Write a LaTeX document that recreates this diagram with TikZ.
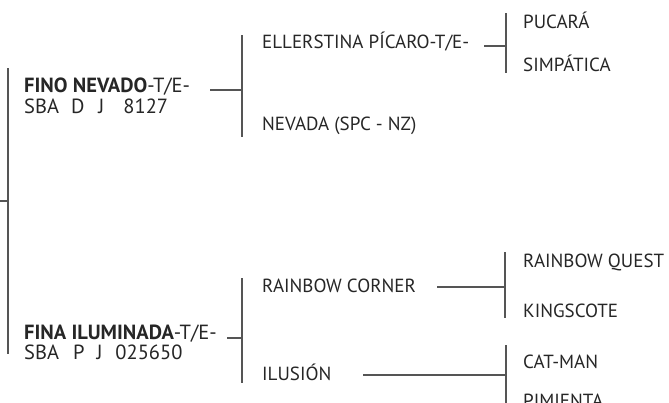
\documentclass[tikz,border=0pt]{standalone}
\usepackage{fontspec}
\setmainfont{PT Sans}
\definecolor{pedText}{HTML}{262626}
\definecolor{pedLine}{HTML}{555555}
\newcommand{\pedfork}[6]{%
  \coordinate (#1-in) at (#2,#4);
  \coordinate (#1) at (#3,#4);
  \coordinate (#1-top) at (#3,#5);
  \coordinate (#1-bot) at (#3,#6);
  \draw[pedline] (#1-in)--(#1);
  \draw[pedline] (#1-top)--(#1-bot);
}
\tikzset{
  horse/.style={anchor=base west,inner sep=0pt,text=pedText,
    font=\fontsize{19}{22}\selectfont},
  parent/.style={horse,font=\fontsize{20.5}{24}\selectfont},
  pedline/.style={pedLine,line width=1.2pt}
}

\begin{document}
\begin{tikzpicture}[x=1pt,y=-1pt]
\clip (0,0) rectangle (669,402);

% First generation: sire and dam.
\node[parent] (fino) at (24,92) {\textbf{FINO NEVADO}-T/E-};
\node[parent] (finoreg) at (24,113) {SBA\hspace{12pt}D\hspace{14pt}J\hspace{19pt}8127};
\node[parent] (fina) at (24,339) {\textbf{FINA ILUMINADA}-T/E-};
\node[parent] (finareg) at (24,359) {SBA\hspace{14pt}P\hspace{12pt}J\hspace{13pt}025650};

% Second generation.
\node[horse] (ellers) at (262,48) {ELLERSTINA PÍCARO-T/E-};
\node[horse] (nevada) at (262,130) {NEVADA (SPC - NZ)};
\node[horse] (rainbow) at (262,292) {RAINBOW CORNER};
\node[horse] (ilusion) at (262,380) {ILUSIÓN};

% Third generation.
\node[horse] (pucara) at (523,28) {PUCARÁ};
\node[horse] (simpatica) at (523,71) {SIMPÁTICA};
\node[horse] (rquest) at (523,267) {RAINBOW QUEST};
\node[horse] (kings) at (523,317) {KINGSCOTE};
\node[horse] (catman) at (523,368) {CAT-MAN};
\node[horse] (pimienta) at (523,407) {PIMIENTA};

% Brackets joining each horse to its parents.
\pedfork{root}{0}{8}{201}{68}{354}
\pedfork{finofork}{210}{242}{90}{35}{137}
\pedfork{finafork}{227}{242}{338}{278}{383}
\pedfork{ellersfork}{484}{506}{46}{13}{73}
\pedfork{rainbowfork}{437}{505}{287}{252}{318}
\pedfork{ilusionfork}{363}{506}{375}{345}{410}

\end{tikzpicture}
\end{document}
